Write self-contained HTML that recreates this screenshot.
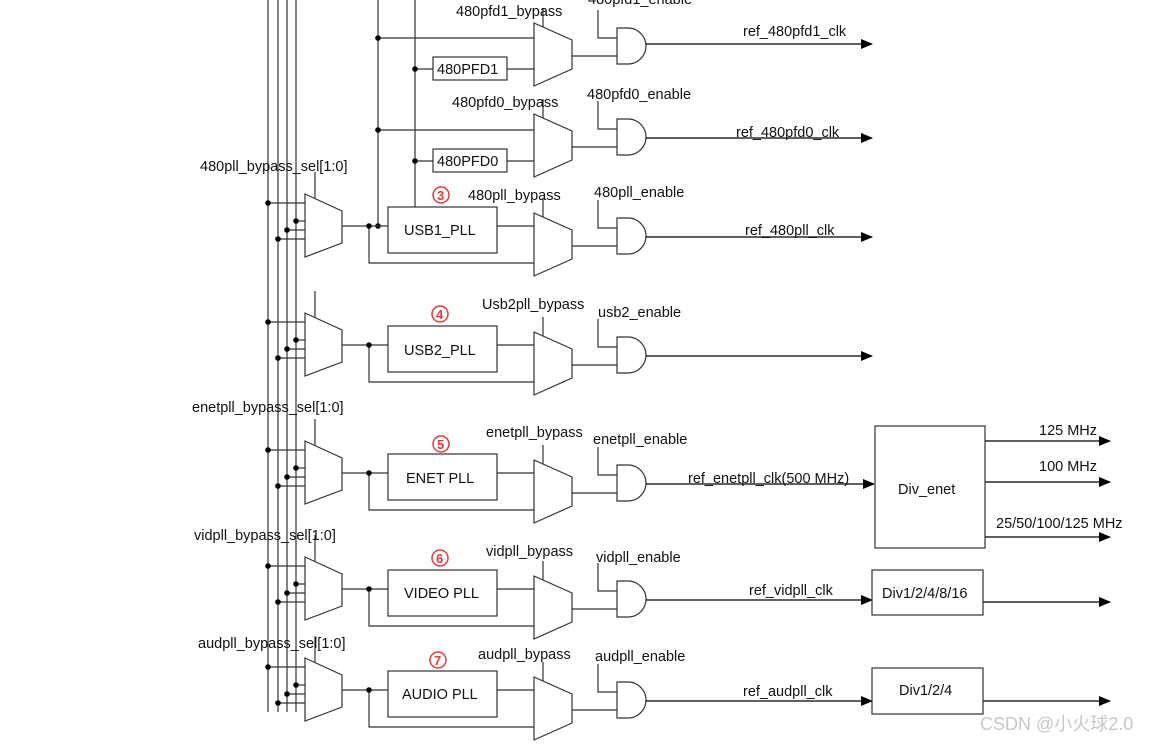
<!DOCTYPE html>
<html><head><meta charset="utf-8"><style>
html,body{margin:0;padding:0;background:#fff;width:1170px;height:744px;overflow:hidden}
svg{display:block}
text{font-family:"Liberation Sans","Noto Sans CJK SC",sans-serif;font-size:14.5px;fill:#111}
.c{fill:#e53935;font-size:13px;font-weight:bold}
</style></head><body>
<svg width="1170" height="744" viewBox="0 0 1170 744" xmlns="http://www.w3.org/2000/svg">
<defs>
<marker id="ar" markerWidth="12" markerHeight="10" refX="11" refY="5" orient="auto" markerUnits="userSpaceOnUse"><path d="M0,0 L12,5 L0,10 Z" fill="#000"/></marker>
<g id="selmux" stroke="#333" stroke-width="1.2" fill="#fff">
<line x1="268" y1="203" x2="305" y2="203"/><line x1="296" y1="221" x2="305" y2="221"/><line x1="287" y1="230" x2="305" y2="230"/><line x1="278" y1="239" x2="305" y2="239"/>
<polygon points="305,194 342,211 342,243 305,257"/>
<line x1="315" y1="198" x2="315" y2="172"/>
<line x1="342" y1="226" x2="388" y2="226"/>
<polyline fill="none" points="369,226 369,263 534,263"/>
<rect x="388" y="207" width="109" height="46"/>
<line x1="497" y1="226" x2="534" y2="226"/>
<circle cx="268" cy="203" r="2.8" fill="#000" stroke="none"/><circle cx="296" cy="221" r="2.8" fill="#000" stroke="none"/><circle cx="287" cy="230" r="2.8" fill="#000" stroke="none"/><circle cx="278" cy="239" r="2.8" fill="#000" stroke="none"/>
<circle cx="369" cy="226" r="2.8" fill="#000" stroke="none"/>
</g>
<g id="outmux" stroke="#333" stroke-width="1.2" fill="#fff">
<polygon points="534,213 572,230 572,259 534,276"/>
<line x1="543" y1="217" x2="543" y2="198"/>
<line x1="572" y1="246" x2="617" y2="246"/>
<polyline fill="none" points="598,200 598,228 617,228"/>
<path d="M617,218 H628 A18,18 0 0 1 628,254 H617 Z"/>
</g>
</defs>
<g stroke="#333" stroke-width="1.2">
<line x1="268" y1="0" x2="268" y2="712"/><line x1="278" y1="0" x2="278" y2="712"/><line x1="287" y1="0" x2="287" y2="712"/><line x1="296" y1="0" x2="296" y2="712"/>
<line x1="378" y1="0" x2="378" y2="226"/><line x1="415" y1="0" x2="415" y2="207"/>
<line x1="378" y1="38" x2="534" y2="38"/><line x1="415" y1="69" x2="433" y2="69"/><line x1="507" y1="69" x2="534" y2="69"/>
<line x1="378" y1="130" x2="534" y2="130"/><line x1="415" y1="161" x2="433" y2="161"/><line x1="507" y1="161" x2="534" y2="161"/>
</g>
<g fill="#000"><circle cx="378" cy="38" r="2.8"/><circle cx="415" cy="69" r="2.8"/><circle cx="378" cy="130" r="2.8"/><circle cx="415" cy="161" r="2.8"/><circle cx="378" cy="226" r="2.8"/></g>
<rect x="433" y="57" width="74" height="23" fill="#fff" stroke="#333" stroke-width="1.2"/>
<rect x="433" y="149" width="74" height="23" fill="#fff" stroke="#333" stroke-width="1.2"/>
<text x="437" y="74">480PFD1</text><text x="437" y="166">480PFD0</text>

<use href="#outmux" transform="translate(0,-190)"/>
<use href="#outmux" transform="translate(0,-99)"/>
<use href="#selmux"/><use href="#outmux"/>
<use href="#selmux" transform="translate(0,119)"/><use href="#outmux" transform="translate(0,119)"/>
<use href="#selmux" transform="translate(0,247)"/><use href="#outmux" transform="translate(0,247)"/>
<use href="#selmux" transform="translate(0,363)"/><use href="#outmux" transform="translate(0,363)"/>
<use href="#selmux" transform="translate(0,464)"/><use href="#outmux" transform="translate(0,464)"/>

<g stroke="#000" stroke-width="1.2" marker-end="url(#ar)">
<line x1="646" y1="44" x2="872" y2="44"/>
<line x1="646" y1="138" x2="872" y2="138"/>
<line x1="646" y1="237" x2="872" y2="237"/>
<line x1="646" y1="356" x2="872" y2="356"/>
<line x1="646" y1="484" x2="874" y2="484"/>
<line x1="646" y1="600" x2="872" y2="600"/>
<line x1="646" y1="701" x2="872" y2="701"/>
<line x1="985" y1="441" x2="1110" y2="441"/>
<line x1="985" y1="482" x2="1110" y2="482"/>
<line x1="985" y1="537" x2="1110" y2="537"/>
<line x1="983" y1="602" x2="1110" y2="602"/>
<line x1="983" y1="701" x2="1110" y2="701"/>
</g>
<g fill="#fff" stroke="#333" stroke-width="1.2">
<rect x="875" y="426" width="110" height="122"/>
<rect x="872" y="570" width="111" height="45"/>
<rect x="872" y="668" width="111" height="46"/>
</g>
<text x="898" y="494">Div_enet</text>
<text x="882" y="598">Div1/2/4/8/16</text>
<text x="899" y="695">Div1/2/4</text>
<text x="1039" y="435">125 MHz</text>
<text x="1039" y="471">100  MHz</text>
<text x="996" y="528">25/50/100/125 MHz</text>

<text x="404" y="235">USB1_PLL</text>
<text x="404" y="355">USB2_PLL</text>
<text x="406" y="483">ENET PLL</text>
<text x="404" y="598">VIDEO PLL</text>
<text x="402" y="699">AUDIO PLL</text>
<g fill="none" stroke="#e53935" stroke-width="1.5">
<circle cx="441" cy="195" r="8"/><circle cx="440" cy="314" r="8"/><circle cx="441" cy="444" r="8"/><circle cx="440" cy="558" r="8"/><circle cx="438" cy="660" r="8"/>
</g>
<text class="c" x="437" y="200">3</text><text class="c" x="436" y="319">4</text><text class="c" x="437" y="449">5</text><text class="c" x="436" y="563">6</text><text class="c" x="434" y="665">7</text>

<text x="456" y="16">480pfd1_bypass</text>
<text x="588" y="4">480pfd1_enable</text>
<text x="452" y="107">480pfd0_bypass</text>
<text x="587" y="99">480pfd0_enable</text>
<text x="468" y="200">480pll_bypass</text>
<text x="594" y="197">480pll_enable</text>
<text x="482" y="309">Usb2pll_bypass</text>
<text x="598" y="317">usb2_enable</text>
<text x="486" y="437">enetpll_bypass</text>
<text x="593" y="444">enetpll_enable</text>
<text x="486" y="556">vidpll_bypass</text>
<text x="596" y="562">vidpll_enable</text>
<text x="478" y="659">audpll_bypass</text>
<text x="595" y="661">audpll_enable</text>

<text x="200" y="171">480pll_bypass_sel[1:0]</text>
<text x="192" y="412">enetpll_bypass_sel[1:0]</text>
<text x="194" y="540">vidpll_bypass_sel[1:0]</text>
<text x="198" y="648">audpll_bypass_sel[1:0]</text>

<text x="743" y="36">ref_480pfd1_clk</text>
<text x="736" y="137">ref_480pfd0_clk</text>
<text x="745" y="235">ref_480pll_clk</text>
<text x="688" y="483">ref_enetpll_clk(500 MHz)</text>
<text x="749" y="595">ref_vidpll_clk</text>
<text x="743" y="696">ref_audpll_clk</text>
<text x="980" y="730" style="fill:#c8c8c8;font-size:18px">CSDN @小火球2.0</text>
</svg>
</body></html>
